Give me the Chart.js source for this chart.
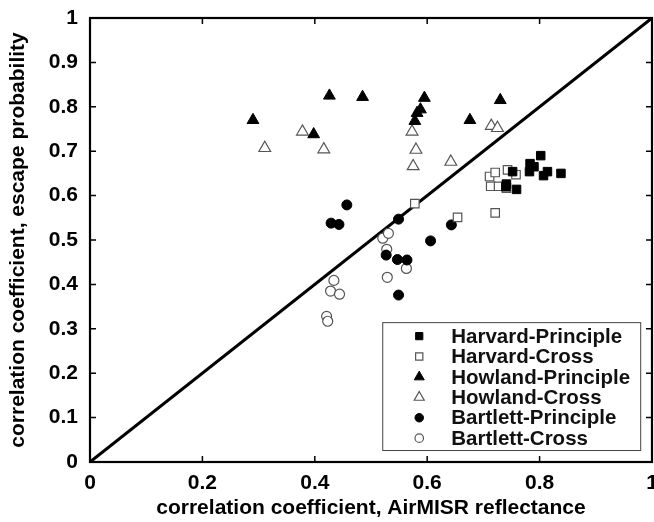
<!DOCTYPE html>
<html>
<head>
<meta charset="utf-8">
<script src="https://cdn.jsdelivr.net/npm/chart.js@4/dist/chart.umd.min.js"></script>
<style>
  html, body { margin: 0; padding: 0; background: #fff; }
  #wrap { width: 654px; height: 522px; }
</style>
</head>
<body>
<div id="wrap"><canvas id="scatter" width="654" height="522"></canvas></div>
<script>
// --- Data (x = AirMISR reflectance corr., y = escape probability corr.) ---
const harvardPrinciple = [
  [0.741, 0.626], [0.740, 0.620], [0.752, 0.654], [0.759, 0.614], [0.782, 0.654],
  [0.783, 0.672], [0.790, 0.665], [0.802, 0.690], [0.807, 0.645], [0.814, 0.654],
  [0.838, 0.650]
];
const harvardCross = [
  [0.578, 0.582], [0.654, 0.551], [0.711, 0.643], [0.713, 0.621], [0.721, 0.652],
  [0.721, 0.561], [0.727, 0.621], [0.741, 0.617], [0.743, 0.658], [0.758, 0.647]
];
const howlandPrinciple = [
  [0.290, 0.770], [0.398, 0.738], [0.426, 0.825], [0.485, 0.822], [0.578, 0.768],
  [0.582, 0.786], [0.588, 0.794], [0.595, 0.820], [0.676, 0.770], [0.730, 0.815]
];
const howlandCross = [
  [0.311, 0.707], [0.378, 0.744], [0.416, 0.704], [0.573, 0.744], [0.580, 0.703],
  [0.575, 0.666], [0.642, 0.676], [0.714, 0.757], [0.725, 0.752]
];
const bartlettPrinciple = [
  [0.457, 0.579], [0.429, 0.538], [0.443, 0.535], [0.549, 0.547], [0.643, 0.534],
  [0.606, 0.498], [0.527, 0.466], [0.547, 0.456], [0.564, 0.455], [0.549, 0.376]
];
const bartlettCross = [
  [0.521, 0.504], [0.531, 0.515], [0.528, 0.479], [0.563, 0.436], [0.529, 0.416],
  [0.434, 0.409], [0.428, 0.385], [0.444, 0.378], [0.421, 0.328], [0.423, 0.317]
];
const diagonal = [[0, 0], [1, 1]];
const xTicks = [0, 0.2, 0.4, 0.6, 0.8, 1];
const xTickLabels = ['0', '0.2', '0.4', '0.6', '0.8', '1'];
const yTicks = [0, 0.1, 0.2, 0.3, 0.4, 0.5, 0.6, 0.7, 0.8, 0.9, 1];
const yTickLabels = ['0', '0.1', '0.2', '0.3', '0.4', '0.5', '0.6', '0.7', '0.8', '0.9', '1'];

const FONT = '"Liberation Sans", Arial, sans-serif';
const toXY = arr => arr.map(p => ({ x: p[0], y: p[1] }));

// marker styles shared by plot and legend
const series = [
  { label: 'Harvard-Principle',  data: harvardPrinciple,  style: 'rect',     radius: 6,   fill: '#000', stroke: '#000', bw: 1 },
  { label: 'Harvard-Cross',      data: harvardCross,      style: 'rect',     radius: 6,   fill: '#fff', stroke: '#555', bw: 1.2 },
  { label: 'Howland-Principle',  data: howlandPrinciple,  style: 'triangle', radius: 6.8, fill: '#000', stroke: '#000', bw: 1 },
  { label: 'Howland-Cross',      data: howlandCross,      style: 'triangle', radius: 6.8, fill: '#fff', stroke: '#555', bw: 1.2 },
  { label: 'Bartlett-Principle', data: bartlettPrinciple, style: 'circle',   radius: 5,   fill: '#000', stroke: '#000', bw: 1 },
  { label: 'Bartlett-Cross',     data: bartlettCross,     style: 'circle',   radius: 5,   fill: '#fff', stroke: '#555', bw: 1.2 }
];

// frame, inward ticks on all sides, and the boxed legend
const framePlugin = {
  id: 'frame',
  afterDraw(chart) {
    const ctx = chart.ctx;
    const a = chart.chartArea;
    const xs = chart.scales.x, ys = chart.scales.y;
    ctx.save();
    ctx.strokeStyle = '#000';
    ctx.lineWidth = 1.5;
    ctx.beginPath();
    xTicks.slice(1, -1).forEach(v => {
      const px = xs.getPixelForValue(v);
      ctx.moveTo(px, a.bottom); ctx.lineTo(px, a.bottom - 6);
      ctx.moveTo(px, a.top); ctx.lineTo(px, a.top + 6);
    });
    yTicks.slice(1, -1).forEach(v => {
      const py = ys.getPixelForValue(v);
      ctx.moveTo(a.left, py); ctx.lineTo(a.left + 6, py);
      ctx.moveTo(a.right, py); ctx.lineTo(a.right - 6, py);
    });
    ctx.stroke();
    ctx.lineWidth = 2.2;
    ctx.strokeRect(a.left, a.top, a.right - a.left, a.bottom - a.top);

    // legend box
    const w = a.right - a.left, h = a.bottom - a.top;
    const bx = a.left + w * 0.52, by = a.top + h * 0.685;
    const bw = w * 0.459, bh = h * 0.288;
    ctx.fillStyle = '#fff';
    ctx.fillRect(bx, by, bw, bh);
    ctx.strokeStyle = '#444';
    ctx.lineWidth = 1;
    ctx.strokeRect(bx + 0.5, by + 0.5, bw, bh);
    ctx.font = 'bold 20.5px ' + FONT;
    ctx.textBaseline = 'middle';
    ctx.textAlign = 'left';
    series.forEach((s, i) => {
      const cy = by + 14 + i * 20.4;
      const mx = bx + 37;
      ctx.fillStyle = s.fill;
      ctx.strokeStyle = s.stroke;
      ctx.lineWidth = s.bw;
      Chart.helpers.drawPoint(ctx, { pointStyle: s.style, radius: s.radius * 0.85, rotation: 0, borderWidth: s.bw }, mx, cy);
      ctx.fillStyle = '#111';
      ctx.fillText(s.label, bx + 69, cy + 1);
    });
    ctx.restore();
  }
};

const noPad = s => { s.paddingLeft = 0; s.paddingRight = 0; s.paddingTop = 0; s.paddingBottom = 0; };

const datasets = series.map(s => ({
  label: s.label,
  data: toXY(s.data),
  pointStyle: s.style,
  pointRadius: s.radius,
  pointBackgroundColor: s.fill,
  pointBorderColor: s.stroke,
  pointBorderWidth: s.bw,
  showLine: false,
  order: 1
}));
datasets.push({
  label: 'diagonal',
  data: toXY(diagonal),
  showLine: true,
  borderColor: '#000',
  borderWidth: 3,
  pointRadius: 0,
  order: 10
});

new Chart(document.getElementById('scatter').getContext('2d'), {
  type: 'scatter',
  data: { datasets: datasets },
  options: {
    responsive: false,
    animation: false,
    layout: { padding: { top: 18, right: 2, left: 0, bottom: 0 }, autoPadding: false },
    plugins: {
      legend: { display: false },
      tooltip: { enabled: false }
    },
    scales: {
      x: {
        type: 'linear',
        min: 0, max: 1,
        afterFit: s => { s.height = 60; noPad(s); },
        afterBuildTicks: s => { s.ticks = xTicks.map(v => ({ value: v })); },
        ticks: {
          color: '#000', padding: 9,
          font: { family: FONT, size: 21, weight: 'bold' },
          callback: (v, i) => xTickLabels[i]
        },
        grid: { display: false, drawTicks: false },
        border: { display: false },
        title: {
          display: true,
          text: 'correlation coefficient, AirMISR reflectance',
          color: '#000',
          font: { family: FONT, size: 21, weight: 'bold' },
          padding: { top: 0, bottom: 1 }
        }
      },
      y: {
        type: 'linear',
        min: 0, max: 1,
        afterFit: s => { s.width = 90; noPad(s); },
        afterBuildTicks: s => { s.ticks = yTicks.map(v => ({ value: v })); },
        ticks: {
          color: '#000', padding: 12,
          font: { family: FONT, size: 21, weight: 'bold' },
          callback: (v, i) => yTickLabels[i]
        },
        grid: { display: false, drawTicks: false },
        border: { display: false },
        title: {
          display: true,
          text: 'correlation coefficient, escape probability',
          color: '#000',
          font: { family: FONT, size: 21, weight: 'bold' },
          padding: { top: 6, bottom: 0 }
        }
      }
    }
  },
  plugins: [framePlugin]
});
</script>
</body>
</html>
